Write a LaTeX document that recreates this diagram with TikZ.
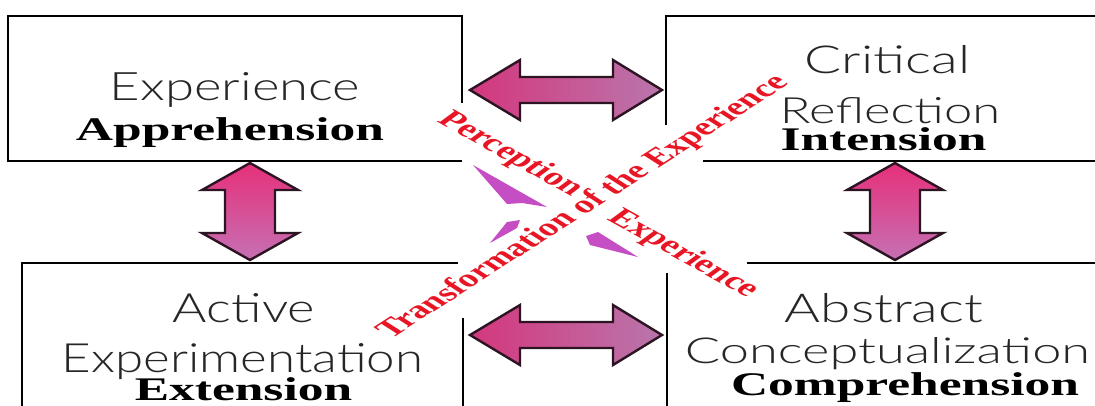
\documentclass[tikz,border=0pt]{standalone}
\usepackage{fontspec}
\setmainfont{Liberation Serif}
\newfontfamily\thinfont{Lato Light}
\usepackage{graphicx}
\usepackage{contour}
\contourlength{2.2pt}
\definecolor{redtx}{RGB}{232,22,36}
\definecolor{arrline}{RGB}{45,20,35}
\definecolor{pinkA}{RGB}{212,55,125}
\definecolor{mauveA}{RGB}{185,118,172}
\definecolor{pinkV}{RGB}{230,48,122}
\definecolor{mauveV}{RGB}{198,112,180}
\definecolor{frag}{RGB}{198,78,196}
\begin{document}
\begin{tikzpicture}[x=1pt,y=-1pt,
  boxline/.style={line width=2.5pt, black},
  blockarr/.style={line width=2.4pt, draw=arrline, line join=miter},
  thinlab/.style={anchor=base, inner sep=0pt, text=black!85},
  boldlab/.style={anchor=base, inner sep=0pt},
  redlab/.style={inner sep=0pt, transform shape, text=redtx},
  harrow/.pic={\draw[blockarr, left color=pinkA, right color=mauveA]
     (-96,0) -- (-46,-30) -- (-46,-13) -- (47,-13) -- (47,-30) -- (96,0)
     -- (47,30) -- (47,13) -- (-46,13) -- (-46,30) -- cycle;},
  varrow/.pic={\draw[blockarr, top color=pinkV, bottom color=mauveV]
     (0,-48.5) -- (48,-21.5) -- (25,-21.5) -- (25,21.5) -- (48,21.5) -- (0,48.5)
     -- (-48,21.5) -- (-25,21.5) -- (-25,-21.5) -- (-48,-21.5) -- cycle;}
]
\newcommand{\bl}[1]{\scalebox{1.56}[1]{\fontsize{33}{33}\selectfont\bfseries #1}}
\newcommand{\rl}[1]{\fontsize{25}{25}\selectfont\bfseries\contour{white}{#1}}
\useasboundingbox (0,0) rectangle (1095,405);
\fill[white] (0,0) rectangle (1095,405);
\clip (0,0) rectangle (1095,405);

% box corners
\coordinate (tlA) at (462,103); \coordinate (tlB) at (462,16);
\coordinate (tlC) at (8,16);    \coordinate (tlD) at (8,161);
\coordinate (tlE) at (462,161);
\coordinate (trA) at (666,125); \coordinate (trB) at (666,16);
\coordinate (trC) at (1100,16); \coordinate (trD) at (703,161);
\coordinate (trE) at (1100,161);
\coordinate (blA) at (458,263); \coordinate (blB) at (22,263);
\coordinate (blC) at (22,410);  \coordinate (blD) at (463,318);
\coordinate (blE) at (463,410);
\coordinate (brA) at (747,263); \coordinate (brB) at (1100,263);
\coordinate (brC) at (667,273); \coordinate (brD) at (667,410);

\draw[boxline] (tlA) -- (tlB) -- (tlC) -- (tlD) -- (tlE);
\draw[boxline] (trA) -- (trB) -- (trC);
\draw[boxline] (trD) -- (trE);
\draw[boxline] (blA) -- (blB) -- (blC);
\draw[boxline] (blD) -- (blE);
\draw[boxline] (brA) -- (brB);
\draw[boxline] (brC) -- (brD);

% block arrows
\pic (atop) at (566,90) {harrow};
\pic (abot) at (566,335) {harrow};
\pic (aleft) at (250,211.5) {varrow};
\pic (aright) at (895,211.5) {varrow};

% fragments of the diagonal arrows
\fill[frag] (473,165) -- (547,207) -- (522,203) -- (507,204) -- cycle;
\fill[frag] (490,243) -- (507,222) -- (520,220) -- (517,228) -- cycle;
\fill[frag] (586,236) -- (598,232) -- (638,257) -- (590,245) -- cycle;

% box texts
\node[thinlab] (tl1) at (235,100) {\resizebox{250pt}{28pt}{\thinfont Experience}};
\node[boldlab] (tl2) at (230,140) {\bl{Apprehension}};
\node[thinlab] (tr1) at (887.5,73) {\resizebox{165pt}{28pt}{\thinfont Critical}};
\node[thinlab] (tr2) at (890,123) {\resizebox{220pt}{26pt}{\thinfont Reflection}};
\node[boldlab] (tr3) at (883.5,150) {\bl{Intension}};
\node[thinlab] (bl1) at (244,322) {\resizebox{142pt}{29pt}{\thinfont Active}};
\node[thinlab] (bl2) at (242.5,372) {\resizebox{361pt}{29pt}{\thinfont Experimentation}};
\node[boldlab] (bl3) at (243.5,400) {\bl{Extension}};
\node[thinlab] (br1) at (884,322) {\resizebox{198pt}{29pt}{\thinfont Abstract}};
\node[thinlab] (br2) at (887.5,363) {\resizebox{405pt}{26pt}{\thinfont Conceptualization}};
\node[boldlab] (br3) at (905,395) {\bl{Comprehension}};

% diagonal red labels
\begin{scope}[shift={(509,155.5)}, xscale=1.56]
  \node[redlab, rotate=-41] (perc) {\rl{Perception}};
\end{scope}
\begin{scope}[shift={(682,255)}, xscale=1.56]
  \node[redlab, rotate=-41] (expl) {\rl{Experience}};
\end{scope}
\begin{scope}[shift={(585,208)}, xscale=1.56]
  \node[redlab, rotate=45] (trans) {\rl{Transformation of the Experience}};
\end{scope}
\end{tikzpicture}
\end{document}
